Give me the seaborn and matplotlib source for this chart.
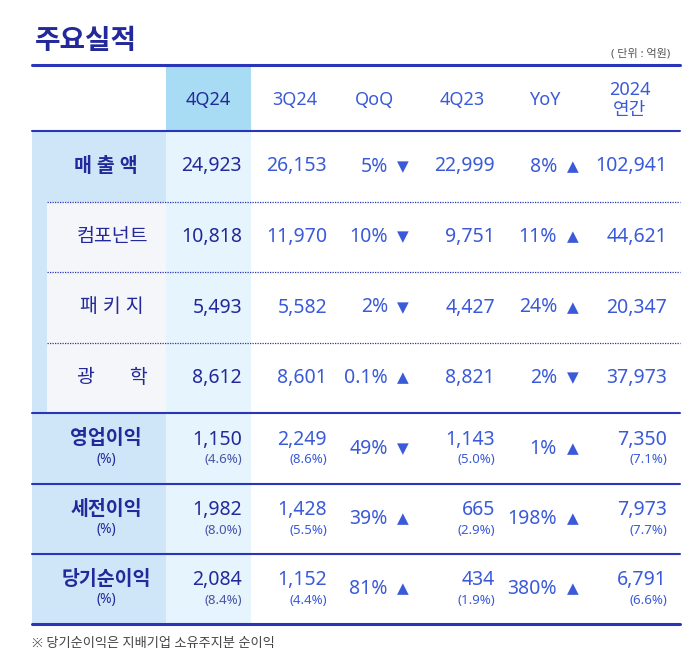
import matplotlib
matplotlib.use("Agg")
import matplotlib.pyplot as plt
import seaborn as sns
from matplotlib.patches import Rectangle

sns.set_theme(style="white")
plt.rcParams["font.family"] = ["Noto Sans", "Noto Sans CJK JP", "Noto Sans CJK KR",
                               "Noto Sans CJK SC", "DejaVu Sans"]

# 데이터
headers = ["4Q24", "3Q24", "QoQ", "4Q23", "YoY", "2024\n연간"]
row_labels = ["매 출 액", "컴포넌트", "패 키 지", "광       학", "영업이익", "세전이익", "당기순이익"]
q4_24 = ["24,923", "10,818", "5,493", "8,612", "1,150", "1,982", "2,084"]
q3_24 = ["26,153", "11,970", "5,582", "8,601", "2,249", "1,428", "1,152"]
qoq = ["5%", "10%", "2%", "0.1%", "49%", "39%", "81%"]
qoq_dir = ["down", "down", "down", "up", "down", "up", "up"]
q4_23 = ["22,999", "9,751", "4,427", "8,821", "1,143", "665", "434"]
yoy = ["8%", "11%", "24%", "2%", "1%", "198%", "380%"]
yoy_dir = ["up", "up", "up", "down", "up", "up", "up"]
annual = ["102,941", "44,621", "20,347", "37,973", "7,350", "7,973", "6,791"]
# 이익률 (영업/세전/당기순)
m_q4_24 = ["(4.6%)", "(8.0%)", "(8.4%)"]
m_q3_24 = ["(8.6%)", "(5.5%)", "(4.4%)"]
m_q4_23 = ["(5.0%)", "(2.9%)", "(1.9%)"]
m_annual = ["(7.1%)", "(7.7%)", "(6.6%)"]

NAVY = "#23289a"
BLUE = "#3a5ad9"
LINE = "#2a36b8"

fig = plt.figure(figsize=(7, 6.55), dpi=100)
ax = fig.add_axes([0, 0, 1, 1])
ax.set_xlim(0, 700)
ax.set_ylim(655, 0)
ax.axis("off")

L, R = 32, 680
row_edges = [131, 202, 272, 343, 413, 484, 554, 624]

# 배경
ax.add_patch(Rectangle((166, 65), 85, 66, color="#a8dcf5", lw=0))
ax.add_patch(Rectangle((166, 131), 85, 493, color="#e5f4fd", lw=0))
ax.add_patch(Rectangle((L, 131), 134, 493, color="#cfe6f9", lw=0))
ax.add_patch(Rectangle((47, 202), 119, 211, color="#f4f6f9", lw=0))
ax.add_patch(Rectangle((166, 202), 85, 211, color="#e5f4fd", lw=0))

# 제목
ax.text(35, 42, "주요실적", fontsize=20, fontweight="bold", color=NAVY, va="center")
ax.text(670, 54, "( 단위 : 억원)", fontsize=8, color="#555555", ha="right", va="center")

# 선
ax.plot([L, R], [65, 65], color=LINE, lw=2.2)
ax.plot([L, R], [131, 131], color=LINE, lw=1.5)
for y in row_edges[1:4]:
    ax.plot([47, R], [y, y], color=LINE, lw=0.9, ls=(0, (1, 1)))
for y in row_edges[4:7]:
    ax.plot([L, R], [y, y], color=LINE, lw=1.5)
ax.plot([L, R], [624, 624], color=LINE, lw=2.2)

# 헤더
hx = [208, 295, 375, 462, 545, 630]
for i, (x, h) in enumerate(zip(hx, headers)):
    ax.text(x, 100, h, fontsize=13, color=NAVY if i == 0 else BLUE,
            fontweight="bold" if i == 0 else "normal", ha="center", va="center",
            linespacing=1.1)

tri = {"up": "▲", "down": "▼"}
for r in range(7):
    yc = (row_edges[r] + row_edges[r + 1]) / 2
    has_m = r >= 4
    yv = yc - 9 if has_m else yc
    bold_lab = r == 0 or has_m
    lx = 106 if r in (0, 4, 5, 6) else 112
    ax.text(lx, yv, row_labels[r], fontsize=14, color=NAVY, ha="center", va="center",
            fontweight="bold" if bold_lab else "normal")
    if has_m:
        ax.text(106, yv + 20, "(%)", fontsize=10, color=NAVY, ha="center", va="center",
                fontweight="bold")
    ax.text(242, yv, q4_24[r], fontsize=14, color=NAVY, fontweight="bold", ha="right", va="center")
    ax.text(327, yv, q3_24[r], fontsize=14, color=BLUE, ha="right", va="center")
    ax.text(388, yc, qoq[r], fontsize=14, color=BLUE, ha="right", va="center")
    ax.text(403, yc, tri[qoq_dir[r]], fontsize=11, color=BLUE, ha="center", va="center",
            fontfamily="DejaVu Sans")
    ax.text(495, yv, q4_23[r], fontsize=14, color=BLUE, ha="right", va="center")
    ax.text(557, yc, yoy[r], fontsize=14, color=BLUE, ha="right", va="center")
    ax.text(573, yc, tri[yoy_dir[r]], fontsize=11, color=BLUE, ha="center", va="center",
            fontfamily="DejaVu Sans")
    ax.text(667, yv, annual[r], fontsize=14, color=BLUE, ha="right", va="center")
    if has_m:
        k = r - 4
        for x, v in [(242, m_q4_24[k]), (327, m_q3_24[k]), (495, m_q4_23[k]), (667, m_annual[k])]:
            ax.text(x, yv + 20, v, fontsize=9.5, color=BLUE if x != 242 else "#4a55a8",
                    ha="right", va="center")

ax.text(32, 643, "※ 당기순이익은 지배기업 소유주지분 순이익", fontsize=9.5,
        color="#444444", va="center")

fig.savefig("out.png", dpi=100)
